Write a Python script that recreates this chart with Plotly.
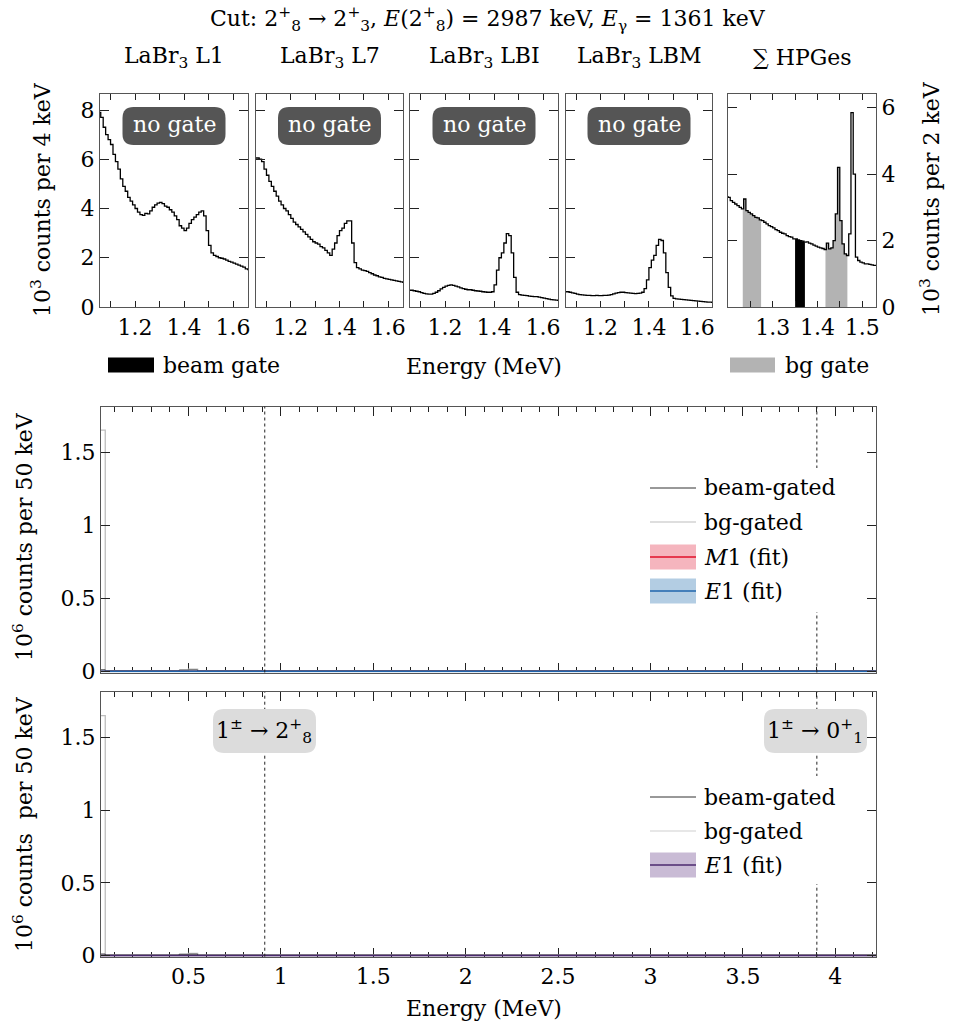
import plotly.graph_objects as go

W, H = 957, 1031
FONT = "DejaVu Serif"

# ---------------- data ----------------
labr_energy_MeV = [1.05, 1.06, 1.07, 1.08, 1.09, 1.10, 1.11, 1.12, 1.13, 1.14, 1.15, 1.16, 1.17, 1.18, 1.19,
                   1.20, 1.21, 1.22, 1.23, 1.24, 1.25, 1.26, 1.27, 1.28, 1.29, 1.30, 1.31, 1.32, 1.33, 1.34,
                   1.35, 1.36, 1.37, 1.38, 1.39, 1.40, 1.41, 1.42, 1.43, 1.44, 1.45, 1.46, 1.47, 1.48, 1.49,
                   1.50, 1.51, 1.52, 1.53, 1.54, 1.55, 1.56, 1.57, 1.58, 1.59, 1.60, 1.61, 1.62, 1.63, 1.64,
                   1.65, 1.66, 1.67]
labr_L1_kcounts = [7.9, 7.7, 7.3, 7.0, 6.8, 6.6, 6.2, 5.9, 5.6, 5.2, 4.9, 4.7, 4.45, 4.3, 4.15,
                   4.0, 3.85, 3.75, 3.72, 3.8, 3.78, 3.9, 4.05, 4.15, 4.22, 4.25, 4.2, 4.1, 4.05, 3.95,
                   3.85, 3.7, 3.55, 3.3, 3.2, 3.1, 3.2, 3.4, 3.55, 3.65, 3.75, 3.85, 3.9, 3.7, 3.1,
                   2.5, 2.2, 2.1, 2.05, 2.0, 1.98, 1.95, 1.9, 1.85, 1.82, 1.78, 1.74, 1.7, 1.66, 1.62,
                   1.55, 1.52, 1.5]
labr_L7_kcounts = [6.05, 6.05, 6.0, 5.9, 5.6, 5.35, 5.1, 4.9, 4.7, 4.5, 4.3, 4.15, 4.0, 3.9, 3.75,
                   3.6, 3.45, 3.35, 3.25, 3.15, 3.05, 2.95, 2.85, 2.75, 2.65, 2.6, 2.55, 2.45, 2.4, 2.3,
                   2.2, 2.1, 2.35, 2.6, 2.9, 3.1, 3.2, 3.4, 3.5, 3.5, 2.6, 1.8, 1.6, 1.55, 1.5,
                   1.48, 1.45, 1.4, 1.35, 1.3, 1.27, 1.22, 1.2, 1.16, 1.14, 1.12, 1.1, 1.08, 1.06, 1.04,
                   1.02, 1.0, 1.0]
labr_LBI_kcounts = [0.68, 0.68, 0.66, 0.64, 0.62, 0.58, 0.55, 0.53, 0.52, 0.52, 0.55, 0.6, 0.66, 0.74, 0.8,
                    0.85, 0.88, 0.9, 0.88, 0.85, 0.82, 0.78, 0.75, 0.72, 0.7, 0.7, 0.68, 0.66, 0.65, 0.64,
                    0.62, 0.61, 0.6, 0.6, 0.62, 0.9, 1.5, 2.0, 2.2, 2.6, 2.98, 2.9, 2.2, 1.2, 0.6,
                    0.5, 0.48, 0.47, 0.46, 0.44, 0.43, 0.42, 0.42, 0.4, 0.38, 0.36, 0.34, 0.32, 0.3, 0.29,
                    0.28, 0.27, 0.27]
labr_LBM_kcounts = [0.62, 0.62, 0.6, 0.57, 0.55, 0.52, 0.5, 0.49, 0.48, 0.47, 0.47, 0.46, 0.46, 0.47, 0.46,
                    0.46, 0.47, 0.47, 0.48, 0.5, 0.53, 0.56, 0.58, 0.6, 0.6, 0.58, 0.57, 0.56, 0.55, 0.54,
                    0.55, 0.56, 0.6, 0.75, 1.1, 1.6, 1.9, 2.1, 2.5, 2.75, 2.7, 2.2, 1.4, 0.8, 0.45,
                    0.35, 0.33, 0.32, 0.31, 0.3, 0.29, 0.28, 0.27, 0.26, 0.25, 0.24, 0.23, 0.22, 0.21, 0.2,
                    0.2, 0.19, 0.19]

hpge_energy_MeV = [1.195, 1.200, 1.205, 1.210, 1.215, 1.220, 1.225, 1.230, 1.235, 1.240, 1.245, 1.250,
                   1.255, 1.260, 1.265, 1.270, 1.275, 1.280, 1.285, 1.290, 1.295, 1.300, 1.305, 1.310,
                   1.315, 1.320, 1.325, 1.330, 1.335, 1.340, 1.345, 1.350, 1.355, 1.360, 1.365, 1.370,
                   1.375, 1.380, 1.385, 1.390, 1.395, 1.400, 1.405, 1.410, 1.415, 1.420, 1.425, 1.430,
                   1.435, 1.440, 1.445, 1.450, 1.455, 1.460, 1.465, 1.470, 1.475, 1.480, 1.485, 1.490,
                   1.495, 1.500, 1.505, 1.510, 1.515, 1.520, 1.525, 1.530, 1.535]
hpge_kcounts = [3.32, 3.3, 3.2, 3.15, 3.1, 3.05, 3.0, 2.95, 3.25, 2.9, 2.85, 2.8,
                2.75, 2.7, 2.68, 2.62, 2.6, 2.55, 2.5, 2.45, 2.42, 2.38, 2.33, 2.3,
                2.25, 2.22, 2.2, 2.15, 2.12, 2.1, 2.05, 2.05, 2.02, 2.0, 1.98, 1.95,
                1.96, 1.92, 1.9, 1.86, 1.83, 1.8, 1.78, 1.76, 1.73, 1.92, 1.75, 1.78,
                2.0, 2.8, 4.2, 2.6, 1.9, 1.6, 1.55, 2.2, 5.85, 4.0, 1.5, 1.4,
                1.35, 1.33, 1.3, 1.3, 1.28, 1.27, 1.25, 1.25, 1.25]

beam_gate_MeV = [1.350, 1.372]
bg_gates_MeV = [[1.233, 1.274], [1.418, 1.467]]

panel_titles = ["LaBr<sub>3</sub> L1", "LaBr<sub>3</sub> L7", "LaBr<sub>3</sub> LBI",
                "LaBr<sub>3</sub> LBM", "∑ HPGes"]
labr_xtick_vals = [1.1, 1.2, 1.3, 1.4, 1.5, 1.6]
labr_xtick_text = ["", "1.2", "", "1.4", "", "1.6"]
labr_ytick_vals = [0, 2, 4, 6, 8]
hpge_xtick_vals = [1.25, 1.30, 1.35, 1.40, 1.45, 1.50]
hpge_xtick_text = ["", "1.3", "", "1.4", "", "1.5"]
hpge_ytick_vals = [0, 2, 4, 6]

# lower spectra (10^6 counts per 50 keV), step-histogram bin edges
spec_beam_E = [0.0, 0.05, 0.45, 0.55, 4.25]
spec_beam_Mcounts = [0.010, 0.003, 0.009, 0.003, 0.003]
spec_bg_E = [0.0, 0.05, 0.50, 0.55, 4.25]
spec_bg_Mcounts = [1.65, 0.004, 0.015, 0.004, 0.004]
fit_E = [0.0, 4.25]
fit_M1_Mcounts = [0.0, 0.0]
fit_E1_Mcounts = [0.0, 0.0]
fit_E1_only_Mcounts = [0.0, 0.0]
transition_E_MeV = [0.913, 3.900]
transition_labels = ["1<sup>±</sup> → 2<sup>+</sup><sub>8</sub>", "1<sup>±</sup> → 0<sup>+</sup><sub>1</sub>"]
big_xtick_vals = [0.5, 1, 1.5, 2, 2.5, 3, 3.5, 4]
big_xtick_text = ["0.5", "1", "1.5", "2", "2.5", "3", "3.5", "4"]
big_ytick_vals = [0, 0.5, 1, 1.5]
big_ytick_text = ["0", "0.5", "1", "1.5"]

# ---------------- helpers ----------------
def X(p):
    return p / W


def Y(p):
    return 1 - p / H


def rrect_path(x0, y0, x1, y1, r):
    return (f"M{X(x0 + r)},{Y(y0)} L{X(x1 - r)},{Y(y0)} Q{X(x1)},{Y(y0)} {X(x1)},{Y(y0 + r)} "
            f"L{X(x1)},{Y(y1 - r)} Q{X(x1)},{Y(y1)} {X(x1 - r)},{Y(y1)} "
            f"L{X(x0 + r)},{Y(y1)} Q{X(x0)},{Y(y1)} {X(x0)},{Y(y1 - r)} "
            f"L{X(x0)},{Y(y0 + r)} Q{X(x0)},{Y(y0)} {X(x0 + r)},{Y(y0)} Z")


def gate_xy(E, C, a, b):
    idx = max(i for i, e in enumerate(E) if e <= a)
    xs = [a] + [e for e in E if a < e < b]
    ys = [C[idx]] + [C[i] for i, e in enumerate(E) if a < e < b]
    xs.append(b)
    ys.append(ys[-1])
    return xs, ys


fig = go.Figure()

# ---------------- layout geometry (pixels) ----------------
top_px = [(100, 248), (256, 403), (410, 558), (566, 712), (728, 876)]
top_y = (94, 307)
mid_y = (406.5, 672.5)
bot_y = (692, 956.7)
big_x = (101, 876)

labr_sets = [labr_L1_kcounts, labr_L7_kcounts, labr_LBI_kcounts, labr_LBM_kcounts]

# HPGe gate fills
for a, b in bg_gates_MeV:
    gx, gy = gate_xy(hpge_energy_MeV, hpge_kcounts, a, b)
    fig.add_trace(go.Scatter(x=gx, y=gy, mode="lines", line=dict(width=0, shape="hv"),
                             fill="tozeroy", fillcolor="#b3b3b3", xaxis="x5", yaxis="y5",
                             showlegend=False, hoverinfo="skip"))
gx, gy = gate_xy(hpge_energy_MeV, hpge_kcounts, beam_gate_MeV[0], beam_gate_MeV[1])
fig.add_trace(go.Scatter(x=gx, y=gy, mode="lines", line=dict(width=0, shape="hv"),
                         fill="tozeroy", fillcolor="black", xaxis="x5", yaxis="y5",
                         showlegend=False, hoverinfo="skip"))

for i, counts in enumerate(labr_sets):
    fig.add_trace(go.Scatter(x=labr_energy_MeV, y=counts, mode="lines",
                             line=dict(color="black", width=1.3, shape="hv"),
                             xaxis=f"x{i + 1}", yaxis=f"y{i + 1}", showlegend=False))
fig.add_trace(go.Scatter(x=hpge_energy_MeV, y=hpge_kcounts, mode="lines",
                         line=dict(color="black", width=1.3, shape="hv"),
                         xaxis="x5", yaxis="y5", showlegend=False))

# lower panels
for ax in ("6", "7"):
    fig.add_trace(go.Scatter(x=spec_bg_E, y=spec_bg_Mcounts, mode="lines",
                             line=dict(color="#bdbdbd", width=1.3, shape="hv"),
                             xaxis="x" + ax, yaxis="y" + ax, showlegend=False))
    fig.add_trace(go.Scatter(x=spec_beam_E, y=spec_beam_Mcounts, mode="lines",
                             line=dict(color="#333333", width=1, shape="hv"),
                             xaxis="x" + ax, yaxis="y" + ax, showlegend=False))
fig.add_trace(go.Scatter(x=fit_E, y=fit_M1_Mcounts, mode="lines", line=dict(color="#e0102a", width=1.2),
                         xaxis="x6", yaxis="y6", showlegend=False))
fig.add_trace(go.Scatter(x=fit_E, y=fit_E1_Mcounts, mode="lines", line=dict(color="#1f64ad", width=1.8),
                         xaxis="x6", yaxis="y6", showlegend=False))
fig.add_trace(go.Scatter(x=fit_E, y=fit_E1_only_Mcounts, mode="lines", line=dict(color="#4b2a6e", width=1.8),
                         xaxis="x7", yaxis="y7", showlegend=False))

# ---------------- axes ----------------
base = dict(showline=True, linecolor="#555555", linewidth=1.3, mirror="ticks", ticks="inside",
            tickcolor="#222222", tickwidth=1, showgrid=False, zeroline=False, fixedrange=True,
            automargin=False, tickfont=dict(family=FONT, size=22, color="black"))
layout_axes = {}
for i, (x0, x1) in enumerate(top_px):
    n = i + 1
    is_hpge = n == 5
    layout_axes[f"xaxis{n}"] = dict(base, domain=[X(x0), X(x1)], anchor=f"y{n}",
                                    range=[1.2, 1.531] if is_hpge else [1.057, 1.661],
                                    tickvals=hpge_xtick_vals if is_hpge else labr_xtick_vals,
                                    ticktext=hpge_xtick_text if is_hpge else labr_xtick_text,
                                    ticklen=6)
    layout_axes[f"yaxis{n}"] = dict(base, domain=[Y(top_y[1]), Y(top_y[0])], anchor=f"x{n}",
                                    range=[0, 6.41] if is_hpge else [0, 8.65],
                                    tickvals=hpge_ytick_vals if is_hpge else labr_ytick_vals,
                                    ticklen=9, showticklabels=(n in (1, 5)),
                                    side="right" if is_hpge else "left")
for n, (yt, yb), show in ((6, mid_y, False), (7, bot_y, True)):
    layout_axes[f"xaxis{n}"] = dict(base, domain=[X(big_x[0]), X(big_x[1])], anchor=f"y{n}",
                                    range=[0.027, 4.22], tickvals=big_xtick_vals, ticktext=big_xtick_text,
                                    ticklen=9, showticklabels=show, layer="below traces",
                                    minor=dict(dtick=0.1, tick0=0, ticklen=5, ticks="inside",
                                               tickcolor="#222222"))
    layout_axes[f"yaxis{n}"] = dict(base, domain=[Y(yb), Y(yt)], anchor=f"x{n}",
                                    range=[-0.008, 1.812], tickvals=big_ytick_vals, ticktext=big_ytick_text,
                                    ticklen=9)
layout_axes["xaxis"] = layout_axes.pop("xaxis1")
layout_axes["yaxis"] = layout_axes.pop("yaxis1")

# ---------------- annotations & shapes ----------------
ann = []
shapes = []


def text(px, py, s, size=22, color="black", angle=0, xanchor="center"):
    ann.append(dict(x=X(px), y=Y(py), xref="paper", yref="paper", text=s, showarrow=False,
                    font=dict(family=FONT, size=size, color=color), textangle=angle,
                    xanchor=xanchor, yanchor="middle"))


text(488, 19, "Cut: 2<sup>+</sup><sub>8</sub> → 2<sup>+</sup><sub>3</sub>, <i>E</i>(2<sup>+</sup><sub>8</sub>) = 2987 keV, "
              "<i>E</i><sub>γ</sub> = 1361 keV")
for (x0, x1), t in zip(top_px, panel_titles):
    text((x0 + x1) / 2, 58, t)
for (x0, x1) in top_px[:4]:
    cx = (x0 + x1) / 2
    shapes.append(dict(type="path", xref="paper", yref="paper", path=rrect_path(cx - 51.5, 107, cx + 51.5, 145, 11),
                       fillcolor="#555555", line=dict(width=0), layer="above"))
    text(cx, 125, "no gate", color="white")

text(41, 200, "10<sup>3</sup> counts per 4 keV", angle=-90)
text(930, 199, "10<sup>3</sup> counts per 2 keV", angle=-90)
text(484, 366, "Energy (MeV)")
shapes.append(dict(type="rect", xref="paper", yref="paper", x0=X(108), x1=X(154), y0=Y(372.5), y1=Y(357.5),
                   fillcolor="black", line=dict(width=0)))
text(161, 365, "beam gate", xanchor="left")
shapes.append(dict(type="rect", xref="paper", yref="paper", x0=X(730), x1=X(775), y0=Y(372.5), y1=Y(357.5),
                   fillcolor="#b3b3b3", line=dict(width=0)))
text(783, 365, "bg gate", xanchor="left")

text(23, 537, "10<sup>6</sup> counts per 50 keV", angle=-90)
text(23, 824, "10<sup>6</sup> counts  per 50 keV", angle=-90)
text(484, 1008, "Energy (MeV)")

# dotted transition lines
for ax in ("6", "7"):
    for e in transition_E_MeV:
        shapes.append(dict(type="line", xref="x" + ax, yref=f"y{ax} domain", x0=e, x1=e, y0=0, y1=1,
                           line=dict(color="#222222", width=1, dash="dot"), layer="above"))

# legends
def legend(rows, bg_top, bg_bot):
    shapes.append(dict(type="rect", xref="paper", yref="paper", x0=X(642), x1=X(845), y0=Y(bg_bot), y1=Y(bg_top),
                       fillcolor="white", line=dict(width=0), layer="above"))
    for py, label, lcolor, lwidth, band in rows:
        if band:
            shapes.append(dict(type="rect", xref="paper", yref="paper", x0=X(650), x1=X(696),
                               y0=Y(py + 12.5), y1=Y(py - 12.5), fillcolor=band, line=dict(width=0),
                               layer="above"))
        shapes.append(dict(type="line", xref="paper", yref="paper", x0=X(650), x1=X(696), y0=Y(py), y1=Y(py),
                           line=dict(color=lcolor, width=lwidth), layer="above"))
        text(702, py, label, xanchor="left")


legend([(488, "beam-gated", "#333333", 1, None),
        (522, "bg-gated", "#bdbdbd", 1.2, None),
        (557, "<i>M</i>1 (fit)", "#e0102a", 1.6, "#f5b5be"),
        (591, "<i>E</i>1 (fit)", "#1f64ad", 1.6, "#b3cde3")], 468, 612)
legend([(797, "beam-gated", "#333333", 1, None),
        (831, "bg-gated", "#cfcfcf", 1.2, None),
        (865, "<i>E</i>1 (fit)", "#4b2a6e", 1.6, "#c9bbd5")], 776, 884)

# transition label boxes (bottom panel)
for (cx, lab) in zip((264, 815), transition_labels):
    shapes.append(dict(type="path", xref="paper", yref="paper", path=rrect_path(cx - 51, 709, cx + 52, 753, 11),
                       fillcolor="#dcdcdc", line=dict(width=0), layer="above"))
    text(cx, 731, lab)

fig.update_layout(width=W, height=H, autosize=False, margin=dict(l=0, r=0, t=0, b=0),
                  paper_bgcolor="white", plot_bgcolor="white", showlegend=False,
                  font=dict(family=FONT, size=22, color="black"),
                  annotations=ann, shapes=shapes, **layout_axes)

fig.write_html("out.html")
